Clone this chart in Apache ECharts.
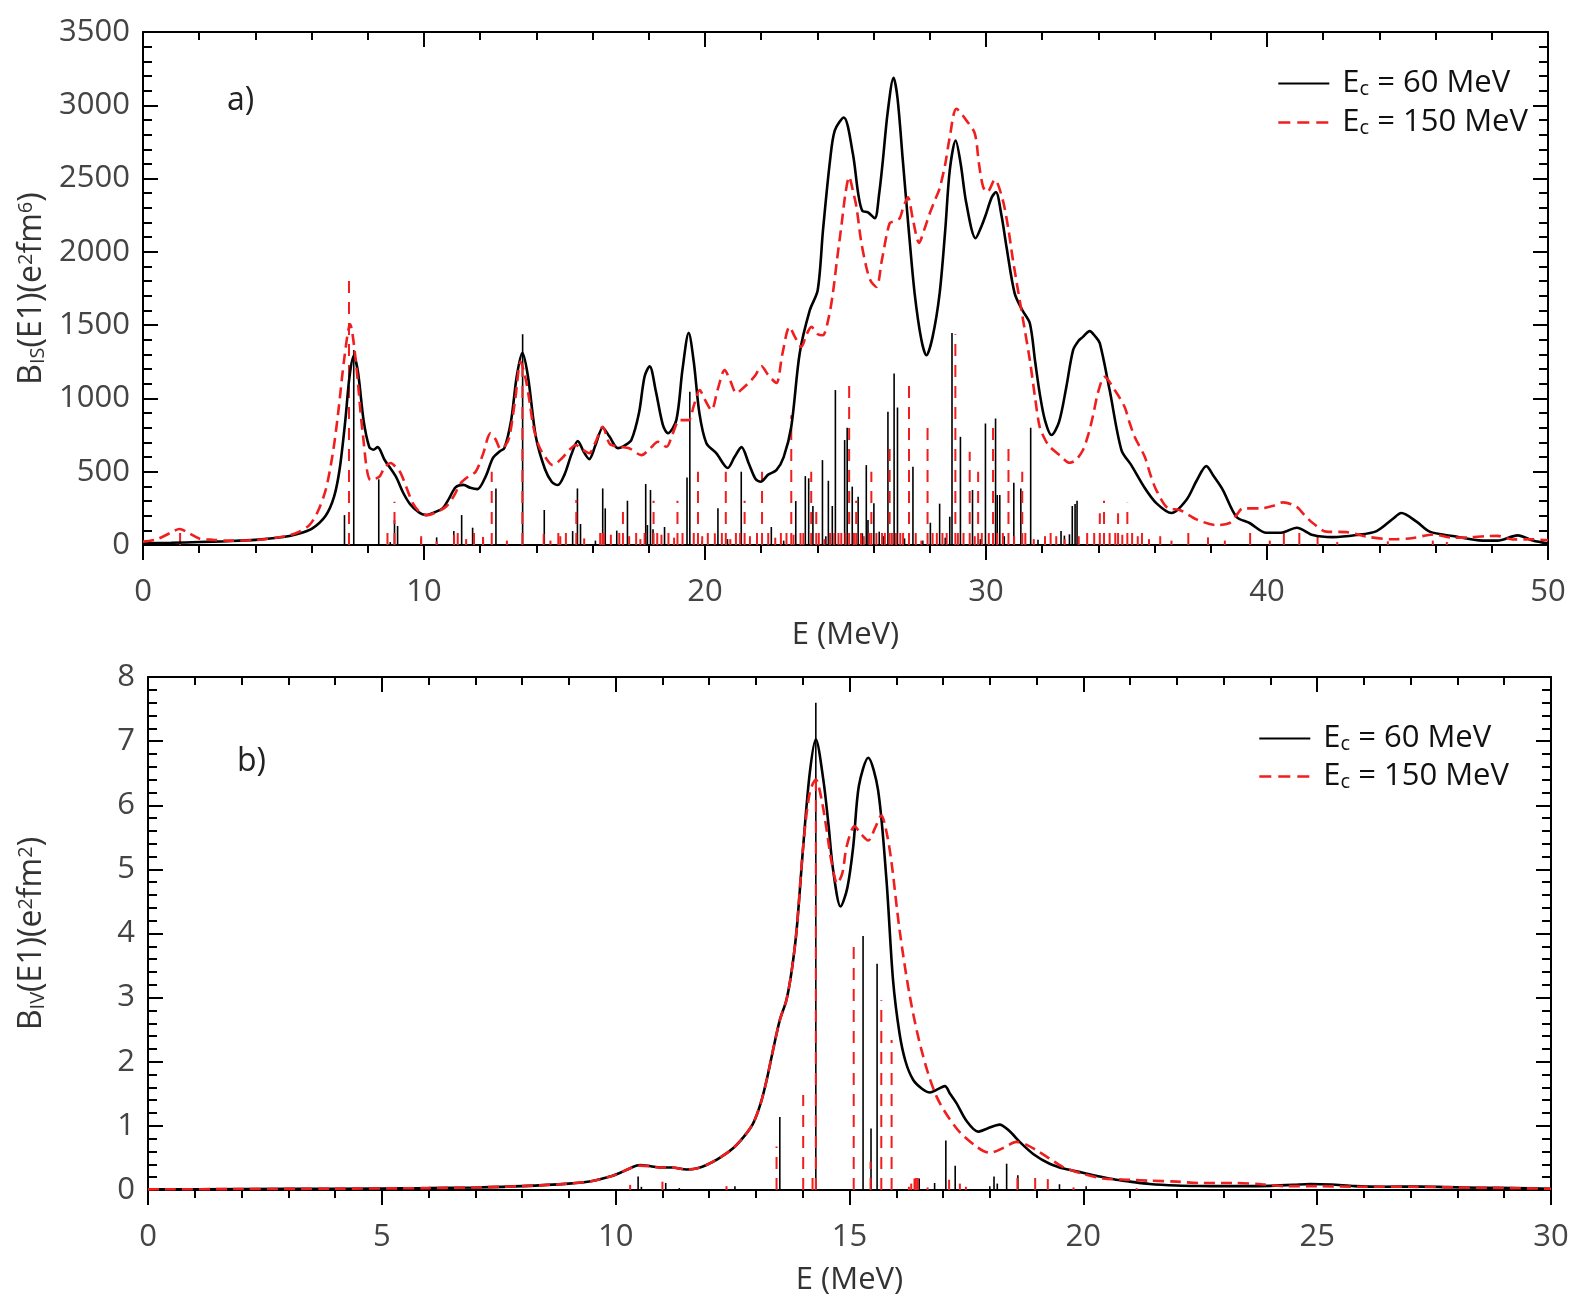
<!DOCTYPE html>
<html>
<head>
<meta charset="utf-8">
<script src="https://cdn.jsdelivr.net/npm/echarts@6/dist/echarts.min.js"></script>
<style>html,body{margin:0;padding:0;background:#fff;}#c{width:1587px;height:1311px;}</style>
</head>
<body>
<div id="c"></div>
<script>
// ---------- Panel a) : isoscalar B(E1) ----------
var isCurve60 = [[0,12],[1,15],[2,20],[3,26],[4,35],[5,55],[5.5,75],[6,110],[6.5,200],[6.8,330],[7.0,520],[7.2,850],[7.35,1150],[7.5,1290],[7.65,1180],[7.85,850],[8.05,670],[8.2,650],[8.35,668],[8.6,580],[9.0,466],[9.25,360],[9.5,280],[9.8,225],[10.06,204],[10.4,225],[10.67,252],[10.9,320],[11.13,395],[11.4,410],[11.65,390],[11.9,381],[12.2,470],[12.45,593],[12.7,640],[12.86,661],[13.1,850],[13.3,1150],[13.5,1311],[13.7,1150],[13.98,738],[14.3,520],[14.55,430],[14.76,409],[15.0,480],[15.25,620],[15.47,709],[15.7,630],[15.88,586],[16.1,680],[16.36,800],[16.6,740],[16.9,661],[17.15,680],[17.38,716],[17.65,900],[17.85,1150],[18.03,1220],[18.25,1050],[18.5,820],[18.68,763],[18.98,852],[19.2,1200],[19.42,1447],[19.6,1250],[19.8,900],[20.05,695],[20.4,627],[20.81,525],[21.05,600],[21.3,668],[21.55,560],[21.8,450],[21.98,432],[22.25,480],[22.54,511],[22.8,600],[23.07,807],[23.37,1308],[23.73,1602],[24.01,1738],[24.2,2150],[24.45,2624],[24.62,2829],[24.94,2917],[25.26,2672],[25.45,2400],[25.6,2279],[25.8,2270],[26.04,2229],[26.2,2400],[26.33,2624],[26.5,2950],[26.71,3188],[26.85,3050],[27.04,2624],[27.25,2150],[27.46,1717],[27.7,1400],[27.88,1295],[28.1,1420],[28.35,1717],[28.55,2150],[28.71,2556],[28.92,2760],[29.1,2600],[29.3,2331],[29.63,2093],[29.85,2180],[30.01,2263],[30.2,2370],[30.35,2408],[30.55,2250],[30.73,2033],[31.02,1717],[31.3,1600],[31.56,1513],[31.75,1250],[31.91,1036],[32.1,850],[32.33,750],[32.6,840],[32.86,1080],[33.1,1330],[33.3,1395],[33.45,1420],[33.69,1459],[33.9,1420],[34.05,1377],[34.4,1057],[34.82,648],[35.17,545],[35.65,389],[36.06,286],[36.6,218],[37.13,307],[37.5,440],[37.84,538],[38.1,470],[38.43,375],[38.91,193],[39.38,150],[39.98,84],[40.5,84],[41.06,118],[41.63,68],[42.34,54],[43.18,68],[43.9,95],[44.47,177],[44.78,218],[45.32,159],[45.79,91],[46.61,61],[47.68,30],[48.2,30],[48.92,66],[49.46,30],[50,10]];
var isCurve150 = [[0,23],[0.5,40],[1.0,85],[1.3,109],[1.6,85],[2.0,45],[2.5,35],[3,30],[4,34],[5,58],[5.5,85],[5.92,136],[6.2,220],[6.5,375],[6.75,620],[6.93,875],[7.17,1284],[7.37,1506],[7.57,1261],[7.82,763],[8.1,443],[8.41,466],[8.6,530],[8.82,559],[9.0,530],[9.17,491],[9.4,380],[9.6,286],[9.85,225],[10.13,204],[10.45,225],[10.78,261],[11.05,330],[11.31,423],[11.6,470],[11.84,500],[12.1,620],[12.37,763],[12.55,720],[12.73,654],[12.9,680],[13.04,738],[13.25,1000],[13.44,1250],[13.6,1150],[13.75,988],[13.9,800],[14.1,670],[14.35,590],[14.58,545],[14.9,590],[15.17,648],[15.4,682],[15.65,650],[15.88,627],[16.1,700],[16.36,807],[16.61,690],[16.96,670],[17.3,660],[17.74,613],[18.05,660],[18.33,704],[18.63,670],[18.85,760],[19.1,852],[19.42,852],[19.6,950],[19.81,1057],[20.0,990],[20.23,920],[20.45,1060],[20.7,1193],[20.9,1120],[21.12,1036],[21.35,1070],[21.59,1113],[21.8,1160],[22.01,1220],[22.25,1160],[22.54,1106],[22.75,1300],[23.01,1488],[23.2,1420],[23.43,1352],[23.6,1430],[23.79,1488],[24.0,1440],[24.19,1431],[24.4,1550],[24.55,1717],[24.7,1950],[24.85,2170],[25.0,2400],[25.13,2511],[25.26,2420],[25.39,2306],[25.55,2080],[25.74,1897],[25.9,1800],[26.1,1761],[26.3,1950],[26.57,2195],[26.75,2210],[26.93,2229],[27.05,2300],[27.22,2372],[27.4,2220],[27.62,2061],[27.8,2150],[28.0,2263],[28.2,2360],[28.35,2433],[28.55,2600],[28.71,2783],[28.95,2976],[29.3,2897],[29.6,2808],[29.75,2600],[29.9,2442],[30.05,2408],[30.31,2492],[30.6,2351],[30.8,2150],[30.96,1943],[31.26,1602],[31.56,1261],[31.75,1000],[31.91,807],[32.1,720],[32.27,670],[32.62,613],[32.98,561],[33.2,580],[33.45,648],[33.65,760],[33.8,875],[34.0,1050],[34.22,1147],[34.58,1057],[34.93,943],[35.1,840],[35.29,738],[35.65,602],[35.85,480],[36.06,375],[36.48,250],[36.89,239],[37.49,175],[38.2,136],[38.67,150],[38.9,200],[39.15,250],[39.74,250],[40.2,266],[40.57,291],[41.05,261],[41.35,200],[41.64,148],[42.11,91],[42.83,88],[43.54,57],[44.48,39],[45.2,48],[45.91,72],[46.6,50],[47.2,52],[47.8,61],[48.2,62],[48.75,38],[49.45,39],[50,32]];
var isSticks60 = [[7.17,204],[7.5,1330],[8.39,448],[8.8,20],[8.95,170],[9.06,130],[9.9,45],[10.45,52],[11.06,95],[11.34,204],[11.73,118],[12.11,45],[12.56,386],[13.51,1438],[14.28,239],[15.29,95],[15.46,386],[15.57,143],[16.1,30],[16.36,386],[16.45,250],[16.86,98],[17.24,302],[17.89,416],[17.95,136],[18.06,375],[18.15,107],[18.56,123],[19.36,461],[19.46,1045],[19.9,25],[20.46,250],[20.8,40],[21.29,500],[22.36,123],[22.8,30],[23.23,300],[23.57,470],[23.69,455],[23.84,266],[24.18,579],[24.3,60],[24.39,438],[24.53,266],[24.64,1057],[24.97,716],[25.06,800],[25.24,398],[25.45,330],[25.6,80],[25.74,545],[25.8,170],[26.01,284],[26.2,91],[26.35,60],[26.51,909],[26.73,1170],[26.85,938],[27.1,45],[27.4,534],[27.75,30],[28.02,152],[28.35,282],[28.55,50],[28.71,193],[28.79,1447],[29.09,738],[29.52,375],[29.8,40],[29.98,829],[30.34,863],[30.4,341],[30.49,341],[30.65,60],[30.99,425],[31.24,386],[31.59,800],[31.85,35],[32.67,95],[32.79,64],[32.97,73],[33.07,266],[33.17,280],[33.24,302]];
var isSticks150 = [[1.32,100],[7.33,1818],[8.7,90],[8.95,295],[9.9,60],[10.45,25],[11.07,70],[11.2,95],[11.5,40],[11.78,95],[12.1,55],[12.41,500],[12.95,30],[13.5,1261],[14.26,75],[14.5,30],[14.78,95],[14.85,60],[15.05,95],[15.42,307],[15.7,45],[16.27,95],[16.35,95],[16.4,95],[16.65,70],[16.95,95],[17.08,240],[17.3,60],[17.55,95],[17.7,40],[17.85,95],[18.17,302],[18.3,95],[18.45,70],[18.7,95],[18.9,50],[19.02,302],[19.2,95],[19.6,95],[19.75,500],[19.9,60],[20.1,95],[20.35,80],[20.6,95],[20.74,500],[20.9,40],[21.1,95],[21.25,95],[21.41,302],[21.6,60],[21.85,95],[22.03,500],[22.25,95],[22.5,50],[22.7,95],[22.9,95],[23.07,886],[23.15,70],[23.4,95],[23.5,95],[23.78,500],[23.96,266],[24.05,95],[24.25,40],[24.45,95],[24.6,95],[24.75,95],[24.85,95],[25.0,95],[25.13,1091],[25.3,95],[25.38,302],[25.55,95],[25.65,60],[25.85,95],[25.92,500],[26.1,95],[26.3,95],[26.4,95],[26.57,693],[26.65,95],[26.8,95],[26.95,95],[27.05,95],[27.26,1091],[27.5,95],[27.7,30],[27.92,834],[28.1,95],[28.25,95],[28.45,95],[28.6,95],[28.91,1438],[29.0,95],[29.2,95],[29.42,636],[29.6,60],[29.72,500],[29.85,95],[30.1,95],[30.25,811],[30.4,95],[30.6,95],[30.8,670],[31.0,60],[31.29,500],[31.4,95],[31.7,40],[32.1,60],[32.3,95],[32.5,60],[32.8,40],[33.3,60],[33.6,95],[33.85,95],[34.05,216],[34.2,302],[34.4,95],[34.6,95],[34.7,216],[34.85,70],[35.03,289],[35.2,95],[35.4,60],[35.55,95],[35.8,40],[36.2,60],[36.6,30],[37.2,84],[37.9,52],[38.5,30],[39.4,100],[40.1,30],[40.6,100],[41.15,100],[41.8,55],[42.5,20],[44.3,25],[45.9,30],[46.4,20]];

// ---------- Panel b) : isovector B(E1) ----------
var ivCurve60 = [[0,0.01],[2,0.015],[4,0.02],[6,0.03],[7,0.04],[8,0.06],[9,0.10],[9.5,0.14],[9.88,0.21],[10.1,0.27],[10.31,0.34],[10.52,0.39],[10.75,0.37],[10.95,0.35],[11.2,0.35],[11.52,0.32],[11.75,0.34],[11.94,0.39],[12.2,0.49],[12.51,0.65],[12.75,0.84],[12.94,1.04],[13.1,1.35],[13.23,1.72],[13.37,2.2],[13.51,2.65],[13.65,2.96],[13.76,3.4],[13.87,4.06],[14.01,5.36],[14.15,6.5],[14.28,7.03],[14.44,6.4],[14.55,5.7],[14.65,4.99],[14.81,4.42],[14.95,4.7],[15.08,5.36],[15.2,6.3],[15.4,6.74],[15.61,6.24],[15.79,4.84],[15.93,3.28],[16.07,2.44],[16.2,2.0],[16.36,1.72],[16.55,1.58],[16.72,1.52],[16.88,1.57],[17.04,1.62],[17.15,1.5],[17.29,1.35],[17.5,1.08],[17.75,0.91],[17.95,0.96],[18.21,1.02],[18.42,0.92],[18.64,0.75],[18.95,0.55],[19.28,0.41],[19.6,0.33],[19.99,0.27],[20.35,0.21],[20.7,0.16],[21.0,0.13],[21.42,0.094],[22.0,0.07],[22.48,0.062],[23,0.06],[23.5,0.06],[24,0.065],[24.5,0.08],[24.84,0.094],[25.3,0.085],[25.8,0.06],[26.4,0.05],[27.2,0.055],[27.8,0.045],[28.5,0.035],[29.2,0.03],[30,0.02]];
var ivCurve150 = [[0,0.01],[2,0.015],[4,0.02],[6,0.03],[7,0.04],[8,0.06],[9,0.10],[9.5,0.14],[9.88,0.21],[10.1,0.27],[10.31,0.34],[10.52,0.38],[10.75,0.37],[10.95,0.35],[11.2,0.35],[11.52,0.32],[11.75,0.34],[11.94,0.39],[12.2,0.49],[12.51,0.65],[12.75,0.84],[12.94,1.04],[13.1,1.35],[13.23,1.72],[13.37,2.2],[13.51,2.65],[13.65,2.96],[13.76,3.4],[13.87,4.06],[14.01,5.36],[14.15,6.2],[14.28,6.4],[14.4,6.1],[14.51,5.62],[14.62,5.1],[14.74,4.78],[14.85,4.95],[14.94,5.36],[15.11,5.67],[15.25,5.55],[15.4,5.45],[15.55,5.65],[15.68,5.84],[15.8,5.55],[15.9,5.1],[16.07,4.06],[16.29,3.02],[16.54,2.18],[16.86,1.46],[17.29,0.96],[17.71,0.68],[18.0,0.58],[18.3,0.66],[18.57,0.75],[18.8,0.7],[19.0,0.62],[19.3,0.48],[19.56,0.36],[20.0,0.25],[20.42,0.18],[21.0,0.16],[21.42,0.145],[22.0,0.13],[22.48,0.11],[23.2,0.11],[23.8,0.09],[24.3,0.06],[25,0.06],[26,0.05],[27,0.05],[28,0.04],[29,0.03],[30,0.02]];
var ivSticks60 = [[10.48,0.21],[10.55,0.05],[11.07,0.11],[11.36,0.03],[12.55,0.06],[13.51,1.14],[14.28,7.6],[15.29,3.96],[15.46,0.96],[15.59,3.53],[16.49,0.18],[16.82,0.11],[17.06,0.77],[17.26,0.38],[18.0,0.06],[18.09,0.21],[18.16,0.1],[18.36,0.41],[18.6,0.23],[19.49,0.09],[20.06,0.06]];
var ivSticks150 = [[10.31,0.08],[11.0,0.13],[12.37,0.06],[13.44,0.68],[14.01,1.48],[14.21,0.21],[14.28,6.4],[15.09,3.85],[15.45,0.44],[15.68,2.96],[15.9,2.34],[16.27,0.05],[16.32,0.1],[16.39,0.18],[16.42,0.21],[16.46,0.22],[16.67,0.04],[17.13,0.16],[17.36,0.1],[17.49,0.05],[18.59,0.23],[18.97,0.2],[19.24,0.17],[19.79,0.04],[21.14,0.03]];

// tick settings
var isXTicks = {min:0, max:50, interval:10};
var isYTicks = {min:0, max:3500, interval:500};
var ivXTicks = {min:0, max:30, interval:5};
var ivYTicks = {min:0, max:8, interval:1};

var FONT = '"Open Sans", "Noto Sans", sans-serif';
var RED = '#f01e1e';
var chart = echarts.init(document.getElementById('c'), null, {renderer:'canvas'});

function stickRender(color, dashed, width) {
  return function (params, api) {
    var x = api.value(0), v = api.value(1);
    var p0 = api.coord([x, 0]);
    var p1 = api.coord([x, v]);
    return {
      type: 'line',
      shape: {x1: p0[0], y1: p0[1], x2: p1[0], y2: p1[1]},
      style: {stroke: color, lineWidth: width, lineDash: dashed ? [12, 9] : null}
    };
  };
}

function plain(v) { return String(v); }

function mkX(grid, t, isMirror) {
  return {
    type: 'value', gridIndex: grid, min: t.min, max: t.max, interval: t.interval,
    position: isMirror ? 'top' : 'bottom',
    axisLine: {show: true, onZero: false, lineStyle: {color: '#000', width: 2}},
    axisTick: {show: true, inside: !!isMirror, length: 15, lineStyle: {color: '#000', width: 2}},
    minorTick: {show: true, splitNumber: 5, length: 8, lineStyle: {color: '#000', width: 2}},
    splitLine: {show: false}, minorSplitLine: {show: false},
    axisLabel: {show: !isMirror, fontSize: 31, color: '#444', fontFamily: FONT, margin: 32, formatter: plain},
    name: isMirror ? '' : 'E (MeV)', nameLocation: 'middle', nameGap: 75,
    nameTextStyle: {fontSize: 31, color: '#333', fontFamily: FONT}
  };
}
function mkY(grid, t, isMirror, nameRich, gap) {
  return {
    type: 'value', gridIndex: grid, min: t.min, max: t.max, interval: t.interval,
    position: isMirror ? 'right' : 'left',
    axisLine: {show: true, onZero: false, lineStyle: {color: '#000', width: 2}},
    axisTick: {show: true, inside: true, length: 15, lineStyle: {color: '#000', width: 2}},
    minorTick: {show: true, splitNumber: 5, length: 9, lineStyle: {color: '#000', width: 2}},
    splitLine: {show: false}, minorSplitLine: {show: false},
    axisLabel: {show: !isMirror, fontSize: 31, color: '#444', fontFamily: FONT, margin: 13, formatter: plain},
    name: isMirror ? '' : nameRich, nameLocation: 'middle', nameGap: gap || 0, nameRotate: 90,
    nameTextStyle: {
      color: '#333', fontFamily: FONT, fontSize: 32,
      rich: {
        n: {fontSize: 32, color: '#333', fontFamily: FONT},
        sub: {fontSize: 20, color: '#333', fontFamily: FONT, verticalAlign: 'bottom'},
        sup: {fontSize: 20, color: '#333', fontFamily: FONT, verticalAlign: 'top'}
      }
    }
  };
}

var legendRich = {
  sp: {width: 8},
  a: {fontSize: 31, color: '#111', fontFamily: FONT},
  s: {fontSize: 20, color: '#111', fontFamily: FONT, verticalAlign: 'bottom'}
};
function legendFmt(name) {
  return name === 'Ec60' ? '{sp|}{a|E}{s|c}{a| = 60 MeV}' : '{sp|}{a|E}{s|c}{a| = 150 MeV}';
}
var legendBase = {
  data: [{name: 'Ec60'}, {name: 'Ec150', lineStyle: {type: [12, 7], width: 2.6}}],
  orient: 'vertical', padding: 0, itemWidth: 51, itemHeight: 20,
  itemStyle: {opacity: 0, borderWidth: 0},
  formatter: legendFmt, textStyle: {rich: legendRich}, selectedMode: false
};

var LW = 2.6;
var option = {
  animation: false,
  backgroundColor: '#fff',
  grid: [
    {left: 143, top: 32, width: 1405, height: 513},
    {left: 148, top: 677, width: 1403, height: 513}
  ],
  xAxis: [mkX(0, isXTicks, false), mkX(0, isXTicks, true), mkX(1, ivXTicks, false), mkX(1, ivXTicks, true)],
  yAxis: [
    mkY(0, isYTicks, false, '{n|B}{sub|IS}{n|(E1)(e}{sup|2}{n|fm}{sup|6}{n|)}', 91),
    mkY(0, isYTicks, true),
    mkY(1, ivYTicks, false, '{n|B}{sub|IV}{n|(E1)(e}{sup|2}{n|fm}{sup|2}{n|)}', 100),
    mkY(1, ivYTicks, true)
  ],
  legend: [
    Object.assign({}, legendBase, {left: 1277, top: 68, itemGap: 8}),
    Object.assign({}, legendBase, {left: 1258, top: 723, itemGap: 7})
  ],
  graphic: [
    {type: 'text', x: 227, y: 101, style: {text: 'a)', font: '32px ' + FONT, fill: '#222', textVerticalAlign: 'middle'}},
    {type: 'text', x: 237, y: 762, style: {text: 'b)', font: '32px ' + FONT, fill: '#222', textVerticalAlign: 'middle'}}
  ],
  series: [
    {type: 'custom', name: 'isS60', xAxisIndex: 0, yAxisIndex: 0, data: isSticks60, encode: {x: 0, y: 1}, renderItem: stickRender('#000', false, 1.6), silent: true, z: 1},
    {type: 'custom', name: 'isS150', xAxisIndex: 0, yAxisIndex: 0, data: isSticks150, encode: {x: 0, y: 1}, renderItem: stickRender(RED, true, 2), silent: true, z: 1},
    {type: 'line', name: 'Ec60', xAxisIndex: 0, yAxisIndex: 0, data: isCurve60, smooth: 0.3, symbol: 'none', lineStyle: {color: '#000', width: LW}, itemStyle: {color: '#000'}, silent: true, z: 3},
    {type: 'line', name: 'Ec150', xAxisIndex: 0, yAxisIndex: 0, data: isCurve150, smooth: 0.3, symbol: 'none', lineStyle: {color: RED, width: LW, type: [11, 6]}, itemStyle: {color: RED}, silent: true, z: 3},
    {type: 'custom', name: 'ivS60', xAxisIndex: 2, yAxisIndex: 2, data: ivSticks60, encode: {x: 0, y: 1}, renderItem: stickRender('#000', false, 1.6), silent: true, z: 1},
    {type: 'custom', name: 'ivS150', xAxisIndex: 2, yAxisIndex: 2, data: ivSticks150, encode: {x: 0, y: 1}, renderItem: stickRender(RED, true, 2), silent: true, z: 1},
    {type: 'line', name: 'Ec60', xAxisIndex: 2, yAxisIndex: 2, data: ivCurve60, smooth: 0.3, symbol: 'none', lineStyle: {color: '#000', width: LW}, itemStyle: {color: '#000'}, silent: true, z: 3},
    {type: 'line', name: 'Ec150', xAxisIndex: 2, yAxisIndex: 2, data: ivCurve150, smooth: 0.3, symbol: 'none', lineStyle: {color: RED, width: LW, type: [11, 6]}, itemStyle: {color: RED}, silent: true, z: 3}
  ]
};
chart.setOption(option);
</script>
</body>
</html>
